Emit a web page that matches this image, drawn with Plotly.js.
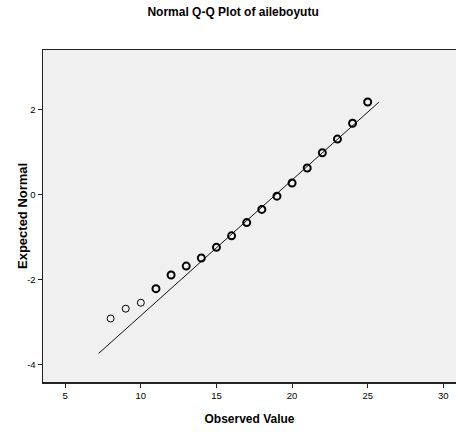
<!DOCTYPE html>
<html>
<head>
<meta charset="utf-8">
<script src="https://cdn.plot.ly/plotly-3.0.1.min.js"></script>
<style>html,body{margin:0;padding:0;background:#fff;}#chart{width:457px;height:432px;}</style>
</head>
<body>
<div id="chart"></div>
<script>
// Observed values (x) and expected normal values (y)
var observedSingle = [8, 9, 10];
var expectedSingle = [-2.91, -2.68, -2.54];
var observedMulti = [11, 12, 13, 14, 15, 16, 17, 18, 19, 20, 21, 22, 23, 24, 25];
var expectedMulti = [-2.21, -1.89, -1.68, -1.49, -1.24, -0.97, -0.66, -0.35, -0.04, 0.27, 0.62, 0.98, 1.30, 1.67, 2.17];
// Reference line endpoints
var lineX = [7.21, 25.75];
var lineY = [-3.73, 2.17];
var xTicks = [5, 10, 15, 20, 25, 30];
var yTicks = [-4, -2, 0, 2];

var sans = '"Liberation Sans", Arial, sans-serif';

var traces = [
  {x: lineX, y: lineY, mode: 'lines', type: 'scatter',
   line: {color: '#111', width: 1}, hoverinfo: 'skip'},
  {x: observedSingle, y: expectedSingle, mode: 'markers', type: 'scatter',
   marker: {symbol: 'circle-open', size: 7, color: '#000', line: {width: 1, color: '#000'}}},
  {x: observedMulti, y: expectedMulti, mode: 'markers', type: 'scatter',
   marker: {symbol: 'circle-open', size: 7, color: '#000', line: {width: 2, color: '#000'}}}
];

var layout = {
  width: 457, height: 432,
  margin: {l: 43, r: 1, t: 50, b: 50},
  paper_bgcolor: '#fff', plot_bgcolor: '#f0f0f0',
  showlegend: false,
  title: {text: '<b>Normal Q-Q Plot of aileboyutu</b>', x: 0.51, xanchor: 'center', y: 0.972, yanchor: 'middle',
          font: {family: sans, size: 12, color: '#000'}},
  xaxis: {range: [3.53, 30.84], tickvals: xTicks, ticktext: xTicks.map(String),
          showgrid: false, zeroline: false, showline: true, mirror: true, linecolor: '#222', linewidth: 1.5,
          ticks: 'outside', ticklen: 4, tickcolor: '#222', tickwidth: 1,
          tickfont: {family: sans, size: 9.5, color: '#000'},
          title: {text: '<b>Observed Value</b>', standoff: 14, font: {family: sans, size: 12, color: '#000'}}},
  yaxis: {range: [-4.40, 3.39], tickvals: yTicks, ticktext: yTicks.map(String),
          showgrid: false, zeroline: false, showline: true, mirror: false, linecolor: '#222', linewidth: 1.5,
          ticks: 'outside', ticklen: 4, tickcolor: '#222', tickwidth: 1,
          tickfont: {family: sans, size: 9.5, color: '#000'}},
  annotations: [{text: '<b>Expected Normal</b>', xref: 'paper', yref: 'paper',
                 x: -21 / 413, y: 0.5, xanchor: 'center', yanchor: 'middle', textangle: -90,
                 showarrow: false, font: {family: sans, size: 13, color: '#000'}}]
};

Plotly.newPlot('chart', traces, layout, {displayModeBar: false, staticPlot: true});
</script>
</body>
</html>
